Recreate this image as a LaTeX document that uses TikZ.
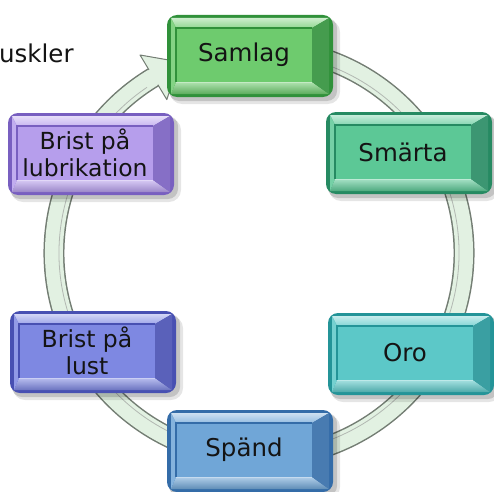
\documentclass[tikz,border=0pt]{standalone}
\usepackage{fontspec}
\setmainfont{DejaVu Sans}
\usetikzlibrary{calc}
\definecolor{samF}{RGB}{110,203,110}\definecolor{samD}{RGB}{48,145,58}
\definecolor{smaF}{RGB}{92,200,150}\definecolor{smaD}{RGB}{38,138,98}
\definecolor{oroF}{RGB}{92,200,200}\definecolor{oroD}{RGB}{36,148,152}
\definecolor{spaF}{RGB}{112,166,215}\definecolor{spaD}{RGB}{52,108,168}
\definecolor{lusF}{RGB}{126,136,226}\definecolor{lusD}{RGB}{72,80,178}
\definecolor{lubF}{RGB}{182,158,236}\definecolor{lubD}{RGB}{120,95,192}
\definecolor{ringF}{RGB}{226,241,226}\definecolor{ringE}{RGB}{115,125,115}
\definecolor{txt}{RGB}{20,20,20}
\tikzset{
 facebox/.style={rectangle, minimum width=136pt, minimum height=54pt, inner sep=0pt, align=center, text=txt, font=\fontsize{24.5}{27}\selectfont},
 twoline/.style={font=\fontsize{23.5}{27}\selectfont},
 ringedge/.style={draw=ringE, line width=21pt},
 ringfill/.style={draw=ringF, line width=18pt},
}
\newcommand\bevbox[6]{%
 \begin{scope}[shift={(#2,#3)}]
  \fill[black,opacity=.10,rounded corners=12pt] (-80,-48) rectangle (90,36);
  \fill[black,opacity=.15,rounded corners=10pt] (-81,-45) rectangle (87,38);
  \fill[#4D,rounded corners=10pt] (-83,-41) rectangle (83,41);
  \shade[top color=#4F!35!white,bottom color=#4F!75!white] (-79,38) -- (79,38) -- (62,28) -- (-74,28) -- cycle;
  \shade[top color=#4F!55!white,bottom color=#4F!85!black] (-79,-38) -- (79,-38) -- (62,-26) -- (-74,-26) -- cycle;
  \fill[#4F!85!white] (-79,38) -- (-74,28) -- (-74,-26) -- (-79,-38) -- cycle;
  \fill[#4D!90!white] (79,38) -- (62,28) -- (62,-26) -- (79,-38) -- cycle;
 \end{scope}
 \node[facebox, fill=#4F, #6] (#1) at ({#2-6},{#3+1}) {#5};
 \begin{scope}[shift={(#2,#3)}]
  \draw[#4D, line width=1.3pt] (-74,-26) -- (-74,28) -- (62,28);
  \draw[#4F!40!white, line width=1pt] (-74,-26.5) -- (62,-26.5);
 \end{scope}
}
\begin{document}
\begin{tikzpicture}[x=1pt,y=1pt]
\useasboundingbox (0,0) rectangle (494,491);
% ring
\coordinate (rc) at (259,238);
\draw[ringedge] (rc) ++(75:205pt) arc[start angle=75,end angle=-239,radius=205pt];
\draw[ringfill] (rc) ++(75:205pt) arc[start angle=75,end angle=-239,radius=205pt];
\draw[ringE!55!white, line width=0.8pt] (rc) ++(75:200pt) arc[start angle=75,end angle=-239,radius=200pt];
\coordinate (hb1) at ($(rc)+(121:231pt)$);
\coordinate (hb2) at ($(rc)+(121:179pt)$);
\coordinate (htip) at ($(rc)+(121:205pt)+(31:30pt)$);
\filldraw[fill=ringF, draw=ringE, line width=1pt, line join=round] (hb1) -- (htip) -- (hb2) -- cycle;
\draw[draw=ringF, line width=17pt] (rc) ++(124:205pt) arc[start angle=124,end angle=119,radius=205pt];
% label at top left
\node[anchor=base west, inner sep=0pt, text=txt, font=\fontsize{24.5}{27}\selectfont] (musk) at (-1,428) {uskler};
% boxes
\bevbox{samlag}{250}{435}{sam}{Samlag}{}
\bevbox{smarta}{409}{338}{sma}{Smärta}{}
\bevbox{lub}{91}{337}{lub}{Brist på\\lubrikation}{twoline}
\bevbox{lust}{93}{139}{lus}{Brist på\\lust}{twoline}
\bevbox{oro}{411}{137}{oro}{Oro}{}
\bevbox{spand}{250}{40}{spa}{Spänd}{}
\end{tikzpicture}
\end{document}
